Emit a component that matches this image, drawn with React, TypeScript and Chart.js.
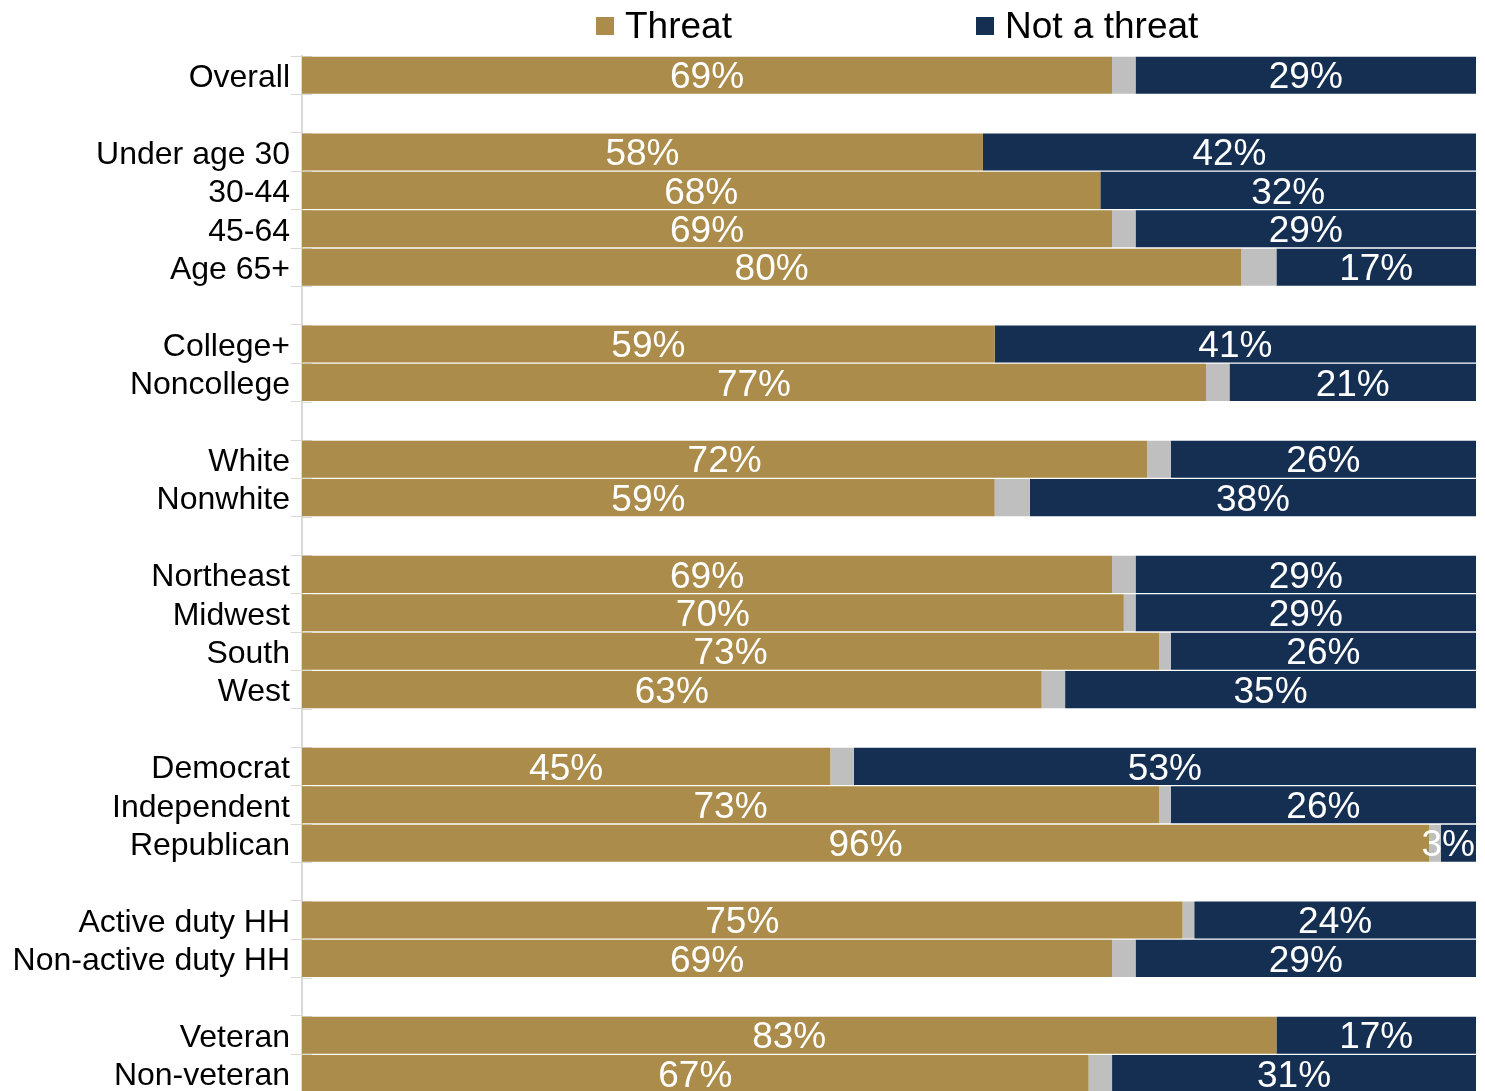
import React, { useEffect, useRef } from "react";
import { Chart, registerables } from "chart.js";

Chart.register(...registerables);

const categories: string[] = [
  "Overall", "",
  "Under age 30", "30-44", "45-64", "Age 65+", "",
  "College+", "Noncollege", "",
  "White", "Nonwhite", "",
  "Northeast", "Midwest", "South", "West", "",
  "Democrat", "Independent", "Republican", "",
  "Active duty HH", "Non-active duty HH", "",
  "Veteran", "Non-veteran",
];

const threat: (number | null)[] = [
  69, null,
  58, 68, 69, 80, null,
  59, 77, null,
  72, 59, null,
  69, 70, 73, 63, null,
  45, 73, 96, null,
  75, 69, null,
  83, 67,
];

const dontKnow: (number | null)[] = [
  2, null,
  0, 0, 2, 3, null,
  0, 2, null,
  2, 3, null,
  2, 1, 1, 2, null,
  2, 1, 1, null,
  1, 2, null,
  0, 2,
];

const notThreat: (number | null)[] = [
  29, null,
  42, 32, 29, 17, null,
  41, 21, null,
  26, 38, null,
  29, 29, 26, 35, null,
  53, 26, 3, null,
  24, 29, null,
  17, 31,
];

const GOLD = "#AB8C4A";
const NAVY = "#152F52";
const GRAY = "#BFBFBF";
const AXIS = "#D9D9D9";
const FONT = "'Liberation Sans', Arial, sans-serif";

const labelPlugin = {
  id: "segLabels",
  beforeDatasetsDraw(chart: any) {
    const { ctx, chartArea } = chart;
    const n = categories.length;
    const step = (chartArea.bottom - chartArea.top) / n;
    ctx.save();
    ctx.strokeStyle = AXIS;
    ctx.lineWidth = 1;
    for (let i = 0; i <= n; i++) {
      const y = Math.round(chartArea.top + i * step) + 0.5;
      ctx.beginPath();
      ctx.moveTo(chartArea.left, y);
      ctx.lineTo(chartArea.left + 10, y);
      ctx.stroke();
    }
    ctx.restore();
  },
  afterDatasetsDraw(chart: any) {
    const { ctx, chartArea } = chart;
    ctx.save();
    ctx.font = `37px ${FONT}`;
    ctx.fillStyle = "#FFFFFF";
    ctx.textAlign = "center";
    ctx.textBaseline = "middle";
    [0, 2].forEach((di) => {
      const meta = chart.getDatasetMeta(di);
      const data = chart.data.datasets[di].data;
      meta.data.forEach((el: any, i: number) => {
        const v = data[i];
        if (v === null || v === undefined || v <= 0) return;
        const { x, base, y } = el.getProps(["x", "base", "y"], true);
        const txt = `${v}%`;
        const w = ctx.measureText(txt).width;
        let cx = (x + base) / 2;
        if (cx + w / 2 > chartArea.right - 1) cx = chartArea.right - 1 - w / 2;
        ctx.fillText(txt, cx, y + 3);
      });
    });
    ctx.restore();
  },
  afterDraw(chart: any) {
    const { ctx } = chart;
    ctx.save();
    ctx.font = `37px ${FONT}`;
    ctx.textBaseline = "alphabetic";
    ctx.textAlign = "left";
    const items = [
      { label: "Threat", color: GOLD, x: 596 },
      { label: "Not a threat", color: NAVY, x: 976 },
    ];
    items.forEach((it) => {
      ctx.fillStyle = it.color;
      ctx.fillRect(it.x, 17, 18, 18);
      ctx.fillStyle = "#000000";
      ctx.fillText(it.label, it.x + 29, 38);
    });
    ctx.restore();
  },
};

export default function App() {
  const canvasRef = useRef<HTMLCanvasElement | null>(null);

  useEffect(() => {
    if (!canvasRef.current) return;
    const chart = new Chart(canvasRef.current, {
      type: "bar",
      data: {
        labels: categories,
        datasets: [
          { label: "Threat", data: threat, backgroundColor: GOLD, borderWidth: 0 },
          { label: "Don't know", data: dontKnow, backgroundColor: GRAY, borderWidth: 0 },
          { label: "Not a threat", data: notThreat, backgroundColor: NAVY, borderWidth: 0 },
        ],
      },
      options: {
        indexAxis: "y",
        animation: false,
        responsive: true,
        maintainAspectRatio: false,
        datasets: { bar: { barPercentage: 0.965, categoryPercentage: 1 } },
        layout: { padding: { top: 56, bottom: 0, right: 9, left: 0 } },
        plugins: {
          legend: { display: false },
          tooltip: { enabled: false },
        },
        scales: {
          x: { stacked: true, min: 0, max: 100, display: false },
          y: {
            stacked: true,
            offset: true,
            afterFit: (s: any) => {
              s.width = 302;
            },
            grid: {
              display: true,
              offset: true,
              drawOnChartArea: false,
              drawTicks: true,
              tickLength: 11,
              color: AXIS,
              lineWidth: 1,
            },
            border: { display: true, color: AXIS, width: 2 },
            ticks: {
              padding: 1,
              labelOffset: 3,
              color: "#000000",
              font: { family: FONT, size: 32 },
              autoSkip: false,
            },
          },
        },
      },
      plugins: [labelPlugin],
    });
    return () => chart.destroy();
  }, []);

  return (
    <div style={{ position: "absolute", left: 0, top: 0, width: 1485, height: 1091, overflow: "hidden", background: "#fff" }}>
      <div style={{ position: "relative", width: 1485, height: 1113 }}>
        <canvas ref={canvasRef} />
      </div>
    </div>
  );
}
